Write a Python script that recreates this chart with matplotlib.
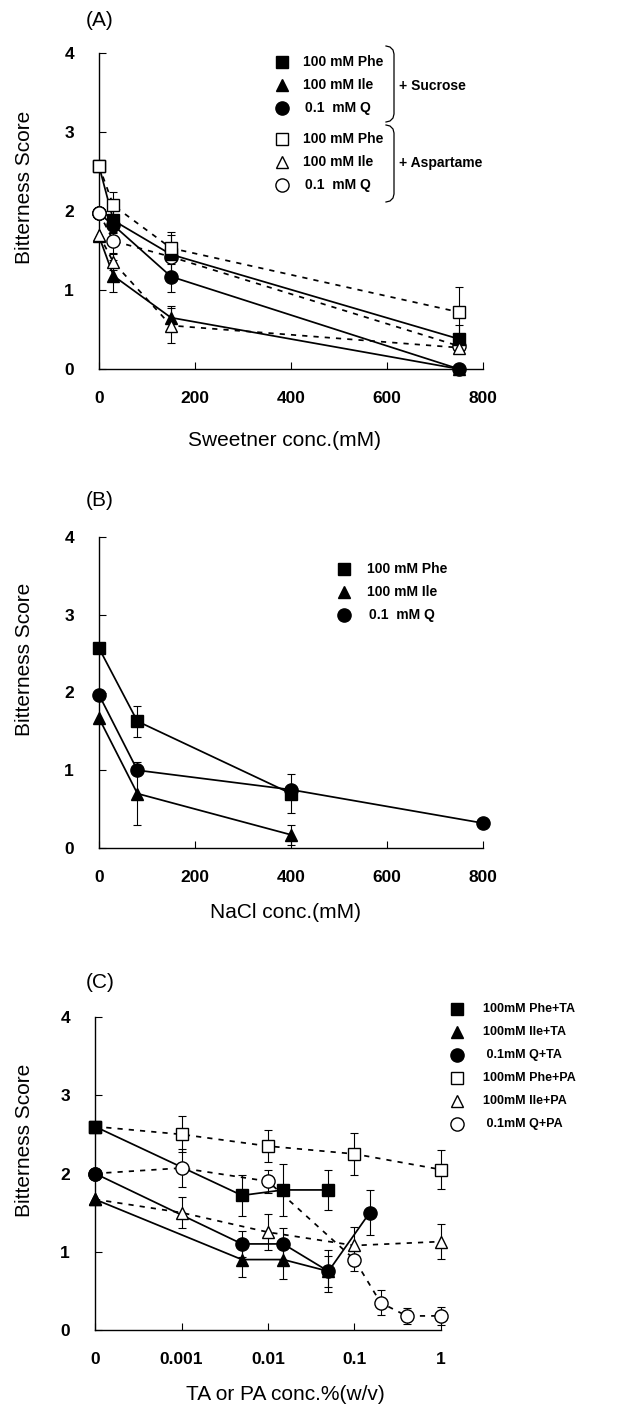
import numpy as np
import matplotlib
matplotlib.use("Agg")
import matplotlib.pyplot as plt
from matplotlib.lines import Line2D

W, H = 644, 1415

plt.rcParams['font.family'] = ['Liberation Sans', 'DejaVu Sans']

# (A) sweeteners
sweet_x = [0, 30, 150, 750]
suc_phe = [2.57, 1.88, 1.45, 0.38]
suc_phe_err = [0, 0.15, 0.25, 0.18]
suc_ile = [1.68, 1.18, 0.65, 0.0]
suc_ile_err = [0, 0.2, 0.15, 0]
suc_q = [1.97, 1.82, 1.17, 0.0]
suc_q_err = [0, 0.1, 0.2, 0]
asp_phe = [2.57, 2.07, 1.53, 0.72]
asp_phe_err = [0, 0.17, 0.2, 0.32]
asp_ile = [1.70, 1.35, 0.55, 0.27]
asp_ile_err = [0, 0.1, 0.22, 0]
asp_q = [1.98, 1.62, 1.42, 0.29]
asp_q_err = [0, 0.15, 0, 0]

# (B) NaCl
nacl_x = [0, 80, 400]
nacl_q_x = [0, 80, 400, 800]
nacl_phe = [2.57, 1.63, 0.70]
nacl_phe_err = [0, 0.2, 0.25]
nacl_ile = [1.67, 0.70, 0.17]
nacl_ile_err = [0, 0.4, 0.13]
nacl_q = [1.97, 1.0, 0.75, 0.32]
nacl_q_err = [0, 0, 0, 0]

# (C) TA / PA  (0 is drawn one decade left of 0.001)
ta_x = [0, 0.005, 0.015, 0.05]
ta_q_x = [0, 0.005, 0.015, 0.05, 0.15]
phe_ta = [2.6, 1.72, 1.79, 1.79]
phe_ta_err = [0, 0.26, 0.33, 0.26]
ile_ta = [1.67, 0.9, 0.9, 0.75]
ile_ta_err = [0, 0.22, 0.25, 0.27]
q_ta = [2.0, 1.1, 1.1, 0.75, 1.5]
q_ta_err = [0, 0.17, 0.2, 0.2, 0.29]
pa_x = [0, 0.001, 0.01, 0.1, 1]
pa_q_x = [0, 0.001, 0.01, 0.1, 0.2, 0.4, 1]
phe_pa = [2.6, 2.5, 2.35, 2.25, 2.05]
phe_pa_err = [0, 0.23, 0.2, 0.27, 0.25]
ile_pa = [1.67, 1.5, 1.25, 1.08, 1.13]
ile_pa_err = [0, 0.2, 0.23, 0.24, 0.22]
q_pa = [2.0, 2.07, 1.9, 0.9, 0.35, 0.18, 0.18]
q_pa_err = [0, 0.24, 0.15, 0.14, 0.16, 0.1, 0.12]
c_ticks = [0, 0.001, 0.01, 0.1, 1]
c_ticklabels = ['0', '0.001', '0.01', '0.1', '1']
ZERO_POS = 1e-4

DASH = (0, (3, 3.5))
MS = {'s': 8.5, '^': 9, 'o': 9.5}


def fx(x):
    return x / W


def fy(y):
    return 1 - y / H


def axes_px(left, right, top, bottom):
    return fig.add_axes([fx(left), fy(bottom), (right - left) / W, (bottom - top) / H])


def marks(ax, x, y, marker, filled, z):
    ax.plot(x, y, ls='none', marker=marker, ms=MS[marker], mfc='k' if filled else 'white',
            mec='k', mew=1.0, zorder=z, clip_on=False)


def series(ax, x, y, err, marker, filled, ls, z=4):
    x = np.asarray(x, float)
    y = np.asarray(y, float)
    err = np.asarray(err, float)
    ax.plot(x, y, color='k', lw=1.25, ls=ls, zorder=2, clip_on=False)
    m = err > 0
    if m.any():
        ax.errorbar(x[m], y[m], yerr=err[m], fmt='none', ecolor='k', elinewidth=0.8,
                    capsize=3, capthick=0.8, zorder=3, clip_on=False)
    marks(ax, x, y, marker, filled, z)


def style(ax):
    ax.spines['top'].set_visible(False)
    ax.spines['right'].set_visible(False)
    for s in ('left', 'bottom'):
        ax.spines[s].set_linewidth(1.0)
    ax.set_ylim(0, 4)
    ax.set_yticks([0, 1, 2, 3, 4])
    ax.tick_params(axis='both', direction='in', length=5, width=0.8, labelsize=12.5)
    ax.tick_params(axis='y', pad=18)
    ax.tick_params(axis='x', pad=16)
    for lab in ax.get_xticklabels() + ax.get_yticklabels():
        lab.set_fontweight('bold')


def key(x, y, tx, marker, filled, text, size):
    fig.add_artist(Line2D([fx(x)], [fy(y)], transform=fig.transFigure, ls='none',
                          marker=marker, ms=MS[marker], mfc='k' if filled else 'white',
                          mec='k', mew=1.0))
    fig.text(fx(tx), fy(y), text, ha='left', va='center', fontsize=size, fontweight='bold')


def brace(x0, ytop, ybot):
    xs = [x0 - 8, x0 - 4, x0 - 1, x0, x0, x0 - 1, x0 - 4, x0 - 8]
    ys = [ytop, ytop + 1, ytop + 4, ytop + 8, ybot - 8, ybot - 4, ybot - 1, ybot]
    fig.add_artist(Line2D([fx(v) for v in xs], [fy(v) for v in ys],
                          transform=fig.transFigure, color='k', lw=0.9))


fig = plt.figure(figsize=(W / 100, H / 100), dpi=100)

# ---- (A)
axA = axes_px(99, 483, 53, 369)
# aspartame+Q sits under the sucrose marks except at 0
series(axA, sweet_x, asp_q, asp_q_err, 'o', False, DASH, 3.5)
marks(axA, sweet_x[:1], asp_q[:1], 'o', False, 5)
series(axA, sweet_x, suc_phe, suc_phe_err, 's', True, '-')
series(axA, sweet_x, suc_ile, suc_ile_err, '^', True, '-')
series(axA, sweet_x, suc_q, suc_q_err, 'o', True, '-')
series(axA, sweet_x, asp_phe, asp_phe_err, 's', False, DASH, 5)
series(axA, sweet_x, asp_ile, asp_ile_err, '^', False, DASH, 5)
axA.set_xlim(0, 800)
axA.set_xticks([0, 200, 400, 600, 800])
style(axA)

rowsA = [62, 85, 108, 139, 162, 185]
labelsA = ['100 mM Phe', '100 mM Ile', '0.1  mM Q'] * 2
for i, (mk, lab) in enumerate(zip(['s', '^', 'o'] * 2, labelsA)):
    key(282, rowsA[i], 305 if 'Q' in lab else 303, mk, i < 3, lab, 10)
brace(394, 46, 122)
brace(394, 125, 202)
fig.text(fx(399), fy(86), '+ Sucrose', ha='left', va='center', fontsize=10, fontweight='bold')
fig.text(fx(399), fy(163), '+ Aspartame', ha='left', va='center', fontsize=10, fontweight='bold')

# ---- (B)
axB = axes_px(99, 483, 537, 848)
series(axB, nacl_x, nacl_phe, nacl_phe_err, 's', True, '-')
series(axB, nacl_x, nacl_ile, nacl_ile_err, '^', True, '-')
series(axB, nacl_q_x, nacl_q, nacl_q_err, 'o', True, '-')
axB.set_xlim(0, 800)
axB.set_xticks([0, 200, 400, 600, 800])
style(axB)
rowsB = [569, 592, 615]
for y, mk, lab in zip(rowsB, ['s', '^', 'o'], ['100 mM Phe', '100 mM Ile', '0.1  mM Q']):
    key(344, y, 369 if 'Q' in lab else 367, mk, True, lab, 10)

# ---- (C)
axC = axes_px(95, 441, 1017, 1330)
def cx(v):
    return [ZERO_POS if a == 0 else a for a in v]
series(axC, cx(pa_x), phe_pa, phe_pa_err, 's', False, DASH)
series(axC, cx(pa_x), ile_pa, ile_pa_err, '^', False, DASH)
series(axC, cx(pa_q_x), q_pa, q_pa_err, 'o', False, DASH)
series(axC, cx(ta_x), phe_ta, phe_ta_err, 's', True, '-', 5)
series(axC, cx(ta_x), ile_ta, ile_ta_err, '^', True, '-', 5)
series(axC, cx(ta_q_x), q_ta, q_ta_err, 'o', True, '-', 5)
axC.set_xscale('log')
axC.set_xlim(ZERO_POS, 1)
axC.set_xticks(cx(c_ticks))
axC.set_xticklabels(c_ticklabels)
axC.xaxis.set_minor_locator(matplotlib.ticker.NullLocator())
style(axC)
rowsC = [1009, 1032, 1055, 1078, 1101, 1124]
labelsC = ['100mM Phe+TA', '100mM Ile+TA', ' 0.1mM Q+TA',
           '100mM Phe+PA', '100mM Ile+PA', ' 0.1mM Q+PA']
for i, (mk, lab) in enumerate(zip(['s', '^', 'o'] * 2, labelsC)):
    key(457, rowsC[i], 483, mk, i < 3, lab, 9)

# titles and axis labels
for y, t in [(20, '(A)'), (500, '(B)'), (982, '(C)')]:
    fig.text(fx(100), fy(y), t, ha='center', va='center', fontsize=15)
for y in [187, 659, 1140]:
    fig.text(fx(25), fy(y), 'Bitterness Score', rotation=90, ha='center', va='center', fontsize=15)
for y, t in [(440, 'Sweetner conc.(mM)'), (912, 'NaCl conc.(mM)'), (1395, 'TA or PA conc.%(w/v)')]:
    fig.text(fx(285), fy(y), t, ha='center', va='center', fontsize=15)

fig.savefig('out.png', dpi=100)
